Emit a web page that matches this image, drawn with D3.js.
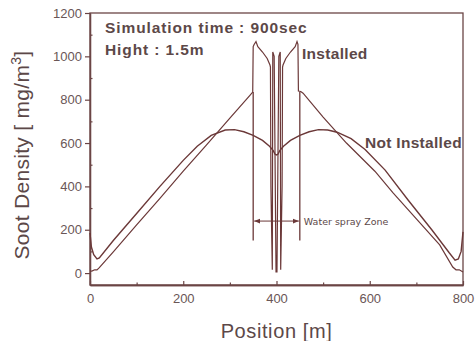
<!DOCTYPE html>
<html>
<head>
<meta charset="utf-8">
<script src="https://cdn.jsdelivr.net/npm/d3@7"></script>
<style>
  body { margin: 0; background: #fff; }
  svg { display: block; font-family: "Liberation Sans", Arial, sans-serif; }
</style>
</head>
<body>
<div class="chart"></div>
<script>
// soot density along the tunnel
const posInstalled = [0, 5, 10, 15, 20, 50, 100, 150, 200, 250, 300, 343, 349, 350, 352, 356, 360, 370, 380, 386, 387, 388, 391, 392, 395, 399, 401, 405, 408, 409, 412, 413, 414, 420, 430, 440, 444, 446, 447, 452, 457, 500, 550, 611, 650, 700, 750, 778, 785, 792, 800];
const valInstalled = [8, 10, 15, 15, 25, 98, 222, 345, 470, 592, 715, 820, 835, 1045, 1055, 1068, 1045, 1020, 990, 960, 950, 400, 15, 1020, 1000, 5, 5, 1000, 1020, 15, 400, 950, 960, 990, 1020, 1045, 1068, 1055, 840, 838, 830, 720, 600, 470, 370, 250, 130, 28, 15, 15, 5];

const posNotInstalled = [0, 3, 8, 15, 20, 50, 100, 150, 200, 230, 260, 290, 310, 330, 350, 370, 385, 393, 397, 400, 403, 407, 415, 430, 450, 470, 490, 510, 530, 560, 590, 633, 683, 733, 770, 783, 790, 796, 800];
const valNotInstalled = [185, 120, 85, 65, 70, 150, 275, 400, 520, 585, 635, 660, 662, 652, 635, 612, 585, 565, 548, 545, 548, 565, 585, 612, 635, 652, 662, 660, 650, 620, 570, 475, 335, 200, 95, 60, 65, 100, 190];

const xTicks = [0, 200, 400, 600, 800];
const xMinor = [100, 300, 500, 700];
const yTicks = [0, 200, 400, 600, 800, 1000, 1200];
const yMinor = [100, 300, 500, 700, 900, 1100];

const zoneStart = 350, zoneEnd = 450, zoneArrow = 240;
const zoneLow = 150, zoneHigh = 835;

const W = 475, H = 341;
const margin = {top: 13, right: 12, bottom: 56, left: 90};
const w = W - margin.left - margin.right;
const h = H - margin.top - margin.bottom;

const lineCol = '#6b3838', axisCol = '#6b4545', textCol = '#5c4848';

const svg = d3.select('.chart').append('svg')
  .attr('width', W).attr('height', H);

const g = svg.append('g')
  .attr('transform', `translate(${margin.left},${margin.top})`);

const x = d3.scaleLinear().domain([0, 800]).range([0, w]);
const y = d3.scaleLinear().domain([-55, 1200]).range([h, 0]);

// frame
g.append('rect')
  .attr('width', w).attr('height', h)
  .attr('fill', 'none').attr('stroke', axisCol).attr('stroke-width', 1.3);

// x axis: inward ticks
g.append('g').attr('transform', `translate(0,${h})`)
  .call(d3.axisBottom(x).tickValues(xTicks).tickFormat(d3.format('d'))
    .tickSize(-4).tickPadding(9).tickSizeOuter(0));
g.append('g').attr('transform', `translate(0,${h})`)
  .call(d3.axisBottom(x).tickValues(xMinor).tickSize(-2.5).tickFormat('').tickSizeOuter(0));

// y axis: outward majors, inward minors
g.append('g')
  .call(d3.axisLeft(y).tickValues(yTicks).tickFormat(d3.format('d'))
    .tickSize(5).tickPadding(3).tickSizeOuter(0));
g.append('g')
  .call(d3.axisLeft(y).tickValues(yMinor).tickSize(-2.5).tickFormat('').tickSizeOuter(0));

g.selectAll('.domain').attr('stroke', axisCol).attr('stroke-width', 1.3);
g.selectAll('.tick line').attr('stroke', axisCol).attr('stroke-width', 1.2);
g.selectAll('.tick text').attr('fill', '#6a5656').style('font-size', '13px')
  .style('font-family', '"Liberation Sans", Arial, sans-serif');

// series
const line = d3.line().x(d => x(d[0])).y(d => y(d[1]));
const installed = d3.zip(posInstalled, valInstalled);
const notInstalled = d3.zip(posNotInstalled, valNotInstalled);

g.append('path').datum(notInstalled)
  .attr('d', line).attr('fill', 'none')
  .attr('stroke', lineCol).attr('stroke-width', 1.4);
g.append('path').datum(installed)
  .attr('d', line).attr('fill', 'none')
  .attr('stroke', lineCol).attr('stroke-width', 1.2);

// water spray zone
[zoneStart, zoneEnd].forEach(p => {
  g.append('line')
    .attr('x1', x(p)).attr('x2', x(p))
    .attr('y1', y(zoneLow)).attr('y2', y(zoneHigh))
    .attr('stroke', lineCol).attr('stroke-width', 1.3);
});
svg.append('defs').append('marker')
  .attr('id', 'arr').attr('viewBox', '0 0 10 10')
  .attr('refX', 10).attr('refY', 5)
  .attr('markerWidth', 6).attr('markerHeight', 6)
  .attr('orient', 'auto-start-reverse')
  .append('path').attr('d', 'M0,1 L10,5 L0,9 Z').attr('fill', lineCol);
g.append('line')
  .attr('x1', x(zoneStart) + 1).attr('x2', x(zoneEnd) - 1)
  .attr('y1', y(zoneArrow)).attr('y2', y(zoneArrow))
  .attr('stroke', lineCol).attr('stroke-width', 1)
  .attr('marker-start', 'url(#arr)').attr('marker-end', 'url(#arr)');
g.append('text')
  .attr('x', x(zoneEnd) + 4).attr('y', y(zoneArrow) + 3.5)
  .attr('fill', textCol).style('font-size', '9.5px')
  .style('font-family', '"DejaVu Sans", sans-serif')
  .text('Water spray Zone');

// annotations
const ann = [
  {t: 'Simulation time : 900sec', x: 105, y: 33, ls: 0.9},
  {t: 'Hight : 1.5m', x: 105, y: 55, ls: 0.9},
  {t: 'Installed', x: 302, y: 59, ls: 0.3},
  {t: 'Not Installed', x: 365, y: 148, ls: 0.3}
];
svg.selectAll('.ann').data(ann).enter().append('text')
  .attr('class', 'ann')
  .attr('x', d => d.x).attr('y', d => d.y)
  .attr('fill', textCol).style('font-size', '15.5px').style('font-weight', 'bold')
  .style('letter-spacing', d => d.ls + 'px')
  .text(d => d.t);

// axis titles
svg.append('text')
  .attr('x', margin.left + w / 2).attr('y', 338)
  .attr('text-anchor', 'middle').attr('fill', textCol)
  .style('font-size', '20px').style('letter-spacing', '0.6px')
  .text('Position [m]');

const yt = svg.append('text')
  .attr('transform', `translate(29,${margin.top + 142}) rotate(-90)`)
  .attr('text-anchor', 'middle').attr('fill', textCol)
  .style('font-size', '21px').style('letter-spacing', '0.3px');
yt.append('tspan').text('Soot Density [ mg/m');
yt.append('tspan').attr('dy', -8).style('font-size', '14px').text('3');
yt.append('tspan').attr('dy', 8).text(']');
</script>
</body>
</html>
